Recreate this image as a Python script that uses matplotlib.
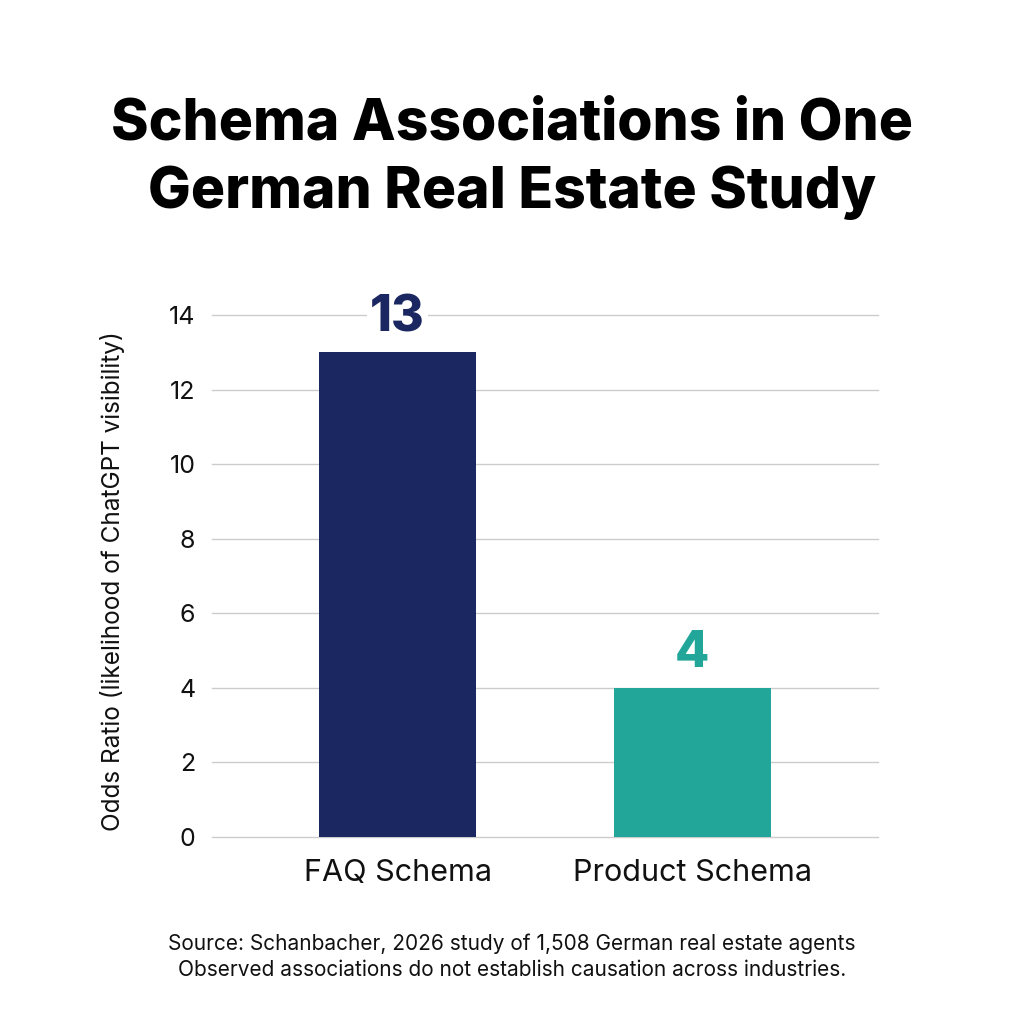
import matplotlib
matplotlib.use("Agg")
import matplotlib.pyplot as plt

categories = ["FAQ Schema", "Product Schema"]
values = [13, 4]
labels = ["13", "4"]
colors = ["#1a2760", "#22a699"]
yticks = [0, 2, 4, 6, 8, 10, 12, 14]

title = "Schema Associations in One\nGerman Real Estate Study"
ylabel = "Odds Ratio (likelihood of ChatGPT visibility)"
source = ("Source: Schanbacher, 2026 study of 1,508 German real estate agents\n"
          "Observed associations do not establish causation across industries.")

fig = plt.figure(figsize=(10.24, 10.24), dpi=100)
ax = fig.add_axes([212/1024, 1-837/1024, (878-212)/1024, (837-315)/1024 * 15.0/14.0])
ax.set_ylim(0, 15)
ax.set_xlim(-0.63, 1.63)

ax.bar(range(len(categories)), values, width=0.535, color=colors, zorder=3)
for i, (v, l) in enumerate(zip(values, labels)):
    t = ax.text(i, v + 0.28, l, ha="center", va="bottom", fontsize=36,
                fontweight="heavy", family="Inter", color=colors[i], zorder=4)
    t.set_bbox(dict(facecolor="white", edgecolor="none", pad=2))

ax.set_yticks(yticks)
ax.set_yticklabels([str(t) for t in yticks], fontsize=18, family="Inter", color="#111111")
ax.set_xticks(range(len(categories)))
ax.set_xticklabels(categories, fontsize=22, family="Inter", color="#111111")
ax.tick_params(axis="both", length=0, pad=12)
ax.tick_params(axis="x", pad=16)
ax.yaxis.grid(True, color="#cccccc", linewidth=1, zorder=0)
for gl in ax.get_ygridlines():
    gl.set_clip_on(False)
for s in ax.spines.values():
    s.set_visible(False)
ax.set_ylabel(ylabel, fontsize=17.5, family="Inter", color="#111111")
ax.yaxis.set_label_coords(-0.13, 14/15/2 - 0.01)

fig.text(0.5, 0.845, title, ha="center", va="center", fontsize=41,
         fontweight="heavy", family="Inter", color="#000000", linespacing=1.32)
fig.text(0.5, 0.0655, source, ha="center", va="center", fontsize=15,
         family="Inter", color="#111111", linespacing=1.4)

fig.savefig("out.png", dpi=100, facecolor="white")
